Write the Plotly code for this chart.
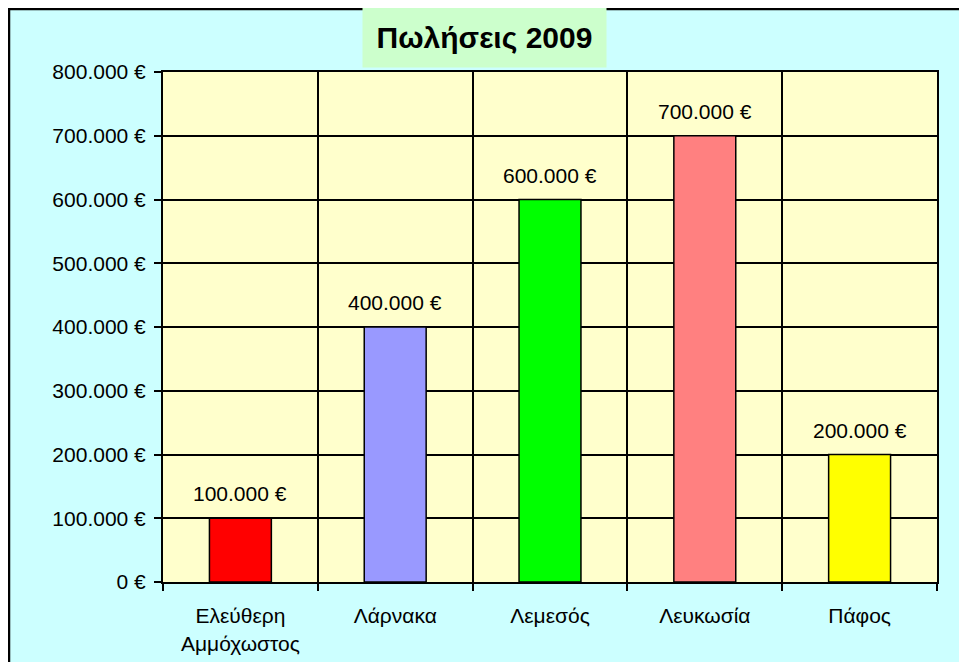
import plotly.graph_objects as go

categories = ["Ελεύθερη<br>Αμμόχωστος", "Λάρνακα", "Λεμεσός", "Λευκωσία", "Πάφος"]
sales = [100000, 400000, 600000, 700000, 200000]
bar_colors = ["#FF0000", "#9999FF", "#00FF00", "#FF8080", "#FFFF00"]
value_labels = ["100.000 €", "400.000 €", "600.000 €", "700.000 €", "200.000 €"]
y_tick_values = [0, 100000, 200000, 300000, 400000, 500000, 600000, 700000, 800000]
y_tick_labels = ["0 €", "100.000 €", "200.000 €", "300.000 €", "400.000 €",
                 "500.000 €", "600.000 €", "700.000 €", "800.000 €"]
title_text = "Πωλήσεις 2009"

FONT = "Liberation Sans, Arial, sans-serif"
FS = 21

# figure sits at an 8px page offset; sizes chosen so it ends at the window edge
W, H = 959, 654
L, R, T, B = 155, 929, 64, 574
pw, ph = R - L, B - T


def px_x(x):
    return (x - L) / pw


def px_y(y):
    return (B - y) / ph


fig = go.Figure()
fig.add_trace(go.Bar(
    x=categories, y=sales, width=0.4,
    marker=dict(color=bar_colors, line=dict(color="black", width=1.5)),
    hoverinfo="skip",
))

for c, v, t in zip(categories, sales, value_labels):
    fig.add_annotation(x=c, y=v, text=t, showarrow=False, xref="x", yref="y",
                       yanchor="bottom", yshift=11,
                       font=dict(family=FONT, size=FS, color="black"))

# outer chart border (left and top visible)
fig.add_shape(type="line", xref="paper", yref="paper",
              x0=px_x(1), x1=px_x(1), y0=px_y(H + 5), y1=px_y(0),
              line=dict(color="black", width=2.5))
fig.add_shape(type="line", xref="paper", yref="paper",
              x0=px_x(0), x1=px_x(W + 5), y0=px_y(1), y1=px_y(1),
              line=dict(color="black", width=2.5))

# title box
fig.add_annotation(text="<b>" + title_text + "</b>", xref="paper", yref="paper",
                   x=px_x(476.5), y=px_y(29.5), xanchor="center", yanchor="middle",
                   width=243, height=59, bgcolor="#CCFFCC", borderpad=0, showarrow=False,
                   font=dict(family=FONT, size=30, color="black"))

fig.update_layout(
    width=W, height=H,
    margin=dict(l=L, r=W - R, t=T, b=H - B, pad=0, autoexpand=False),
    paper_bgcolor="#CCFFFF", plot_bgcolor="#FFFFCC",
    showlegend=False, bargap=0.6,
    font=dict(family=FONT, size=FS, color="black"),
)
fig.update_xaxes(
    type="category", tickson="boundaries", ticks="outside", ticklen=7, tickwidth=2,
    tickcolor="black", showgrid=True, gridcolor="black", gridwidth=1.5,
    showline=True, linecolor="black", linewidth=2, mirror=True, automargin=False,
    tickfont=dict(family=FONT, size=FS, color="black"), ticklabelstandoff=14,
)
fig.update_yaxes(
    range=[0, 800000], tickvals=y_tick_values, ticktext=y_tick_labels,
    ticks="outside", ticklen=7, tickwidth=2, tickcolor="black",
    showgrid=True, gridcolor="black", gridwidth=1.5, zeroline=False,
    showline=True, linecolor="black", linewidth=2, mirror=True, automargin=False,
    tickfont=dict(family=FONT, size=FS, color="black"), ticklabelstandoff=4,
)

fig.write_html("out.html")
